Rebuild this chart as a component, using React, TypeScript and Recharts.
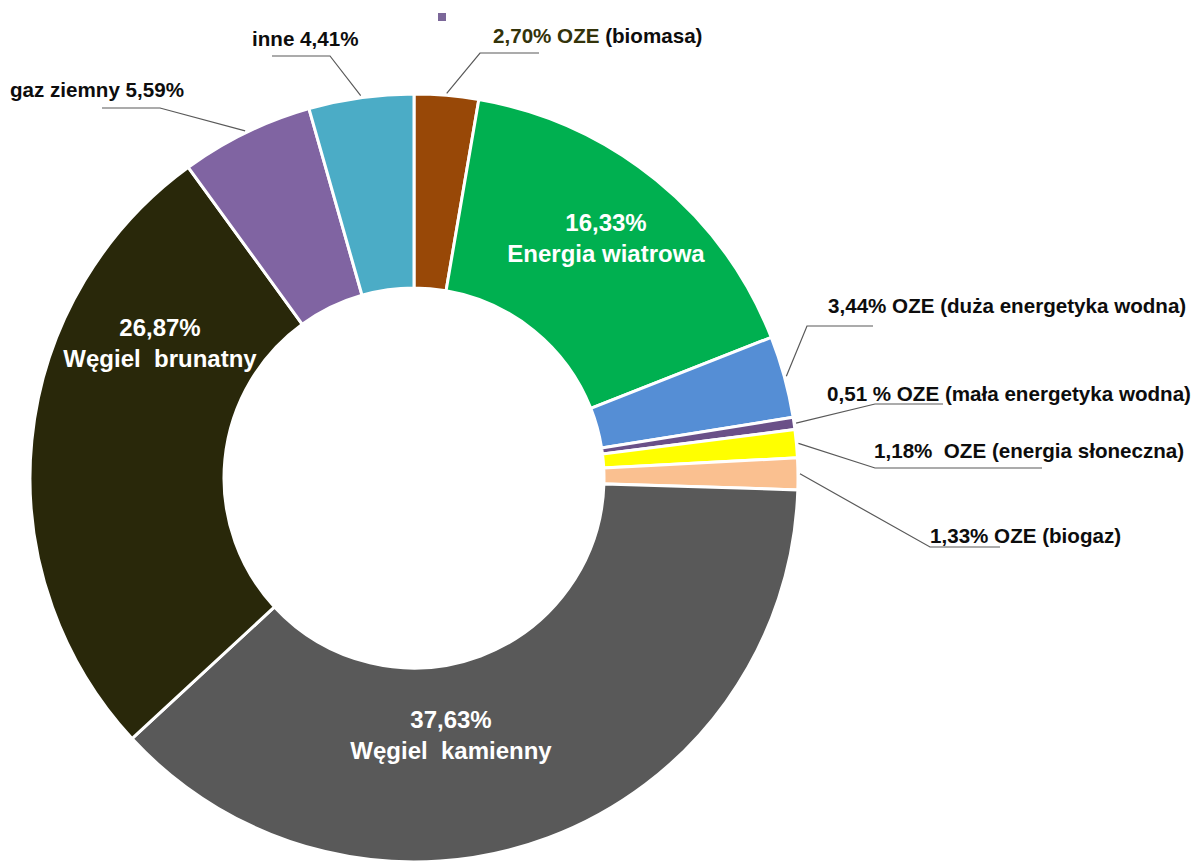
import React from "react";
import { PieChart, Pie, Cell } from "recharts";

// kolejność zgodnie z ruchem wskazówek zegara od godziny 12
const names = [
  "OZE (biomasa)",
  "Energia wiatrowa",
  "OZE (duża energetyka wodna)",
  "OZE (mała energetyka wodna)",
  "OZE (energia słoneczna)",
  "OZE (biogaz)",
  "Węgiel kamienny",
  "Węgiel brunatny",
  "gaz ziemny",
  "inne",
];
const values = [2.7, 16.33, 3.44, 0.51, 1.18, 1.33, 37.63, 26.87, 5.59, 4.41];
const labelLines: string[][] = [
  ["2,70% OZE ", "(biomasa)"],
  ["16,33%", "Energia wiatrowa"],
  ["3,44% OZE (duża energetyka wodna)"],
  ["0,51 % OZE (mała energetyka wodna)"],
  ["1,18%  OZE (energia słoneczna)"],
  ["1,33% OZE (biogaz)"],
  ["37,63%", "Węgiel  kamienny"],
  ["26,87%", "Węgiel  brunatny"],
  ["gaz ziemny 5,59%"],
  ["inne 4,41%"],
];
const COLORS = [
  "#984807", "#00B050", "#558ED5", "#6A5088", "#FFFF00",
  "#FAC090", "#595959", "#29280A", "#8064A2", "#4BACC6",
];

const data = names.map((name, i) => ({ name, value: values[i] }));

// ręczne rozmieszczenie etykiet (względem środka wykresu), jak w Excelu
type Layout =
  | { kind: "in"; x: number; y: number }
  | { kind: "out"; ex: number; ey: number; hx: number; tx: number; ty: number };

const LAYOUT: Layout[] = [
  { kind: "out", ex: 66, ey: -425, hx: 125, tx: 79, ty: -443 },
  { kind: "in", x: 192, y: -256 },
  { kind: "out", ex: 393, ey: -152, hx: 459, tx: 414, ty: -173 },
  { kind: "out", ex: 461, ey: -74, hx: 529, tx: 413, ty: -85 },
  { kind: "out", ex: 461, ey: -10, hx: 628, tx: 460, ty: -28 },
  { kind: "out", ex: 516, ey: 69, hx: 586, tx: 516, ty: 57 },
  { kind: "in", x: 37, y: 241 },
  { kind: "in", x: -254, y: -151 },
  { kind: "out", ex: -254, ey: -370, hx: -312, tx: -404, ty: -389 },
  { kind: "out", ex: -84, ey: -422, hx: -142, tx: -162, ty: -440 },
];

const FONT = "'Liberation Sans', Arial, sans-serif";

const renderLabel = (props: any) => {
  const { cx, cy, midAngle, outerRadius, index } = props;
  const lay = LAYOUT[index];
  const lines = labelLines[index];
  if (lay.kind === "in") {
    return (
      <g key={`lbl-${index}`}>
        {lines.map((t, k) => (
          <text
            key={k}
            x={cx + lay.x}
            y={cy + lay.y + k * 31}
            fill="#fff"
            fontFamily={FONT}
            fontWeight="bold"
            fontSize={24}
            textAnchor="middle"
            dominantBaseline="central"
            style={{ whiteSpace: "pre" }}
          >
            {t}
          </text>
        ))}
      </g>
    );
  }
  const RADIAN = Math.PI / 180;
  const r = outerRadius + 2;
  const sx = cx + r * Math.cos(-midAngle * RADIAN);
  const sy = cy + r * Math.sin(-midAngle * RADIAN);
  const ex = cx + lay.ex;
  const ey = cy + lay.ey;
  const hx = cx + lay.hx;
  return (
    <g key={`lbl-${index}`}>
      <path d={`M${sx},${sy}L${ex},${ey}L${hx},${ey}`} stroke="#595959" strokeWidth={1.2} fill="none" />
      <text
        x={cx + lay.tx}
        y={cy + lay.ty}
        fill="#0d0d0d"
        fontFamily={FONT}
        fontWeight="bold"
        fontSize={20.6}
        textAnchor="start"
        dominantBaseline="central"
        style={{ whiteSpace: "pre" }}
      >
        {lines.length > 1 ? (
          <>
            <tspan fill="#33330A">{lines[0]}</tspan>
            <tspan>{lines[1]}</tspan>
          </>
        ) : (
          lines[0]
        )}
      </text>
    </g>
  );
};

export default function App() {
  return (
    <div style={{ position: "absolute", left: 0, top: 0, width: 1191, height: 865, background: "#fff" }}>
      <div style={{ position: "absolute", left: 438, top: 13, width: 8, height: 8, background: "#7B6799" }} />
      <PieChart width={1191} height={865} margin={{ top: 0, right: 0, bottom: 0, left: 0 }}>
        <Pie
          data={data}
          dataKey="value"
          nameKey="name"
          cx={414}
          cy={478}
          innerRadius={190}
          outerRadius={384}
          startAngle={90}
          endAngle={-270}
          stroke="#fff"
          strokeWidth={3}
          label={renderLabel}
          labelLine={false}
          isAnimationActive={false}
        >
          {data.map((_, i) => (
            <Cell key={i} fill={COLORS[i]} />
          ))}
        </Pie>
      </PieChart>
    </div>
  );
}
